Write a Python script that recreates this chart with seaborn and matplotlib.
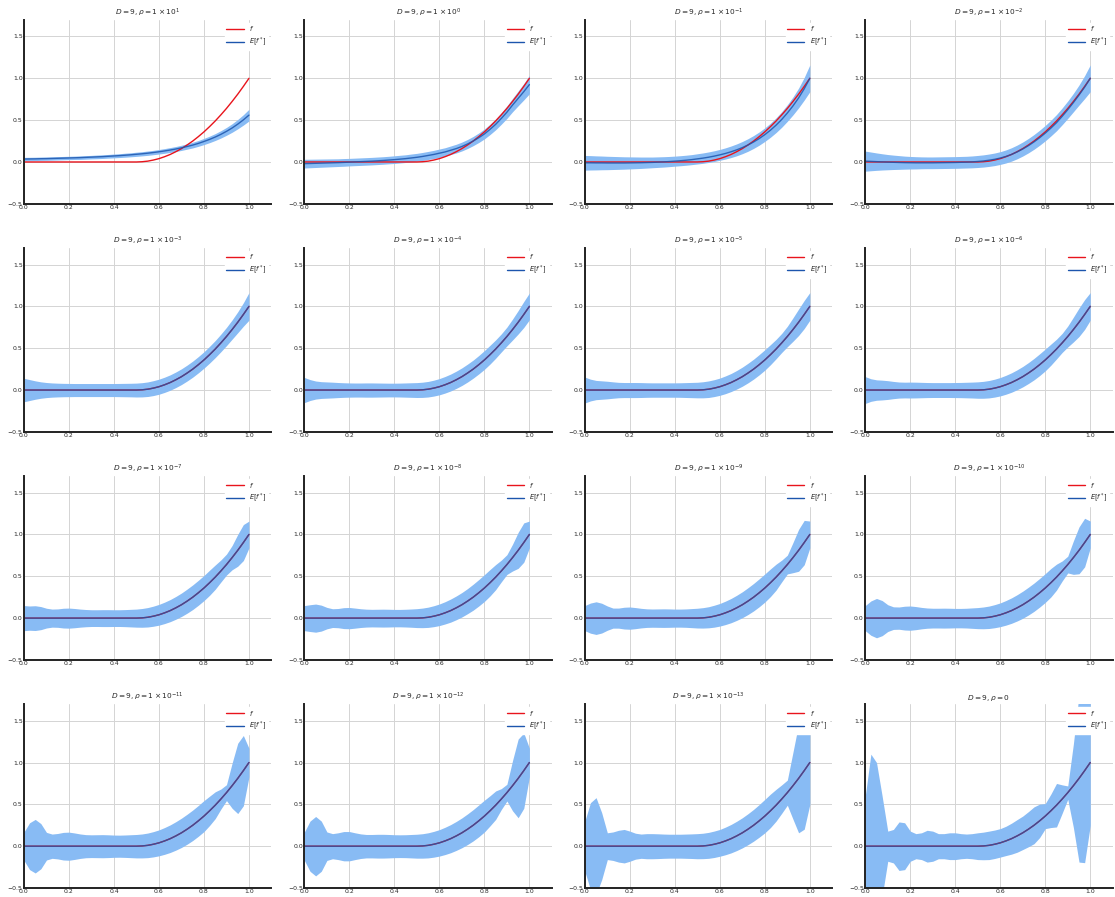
import numpy as np
import matplotlib
matplotlib.use("Agg")
import matplotlib.pyplot as plt
import seaborn as sns
from matplotlib.lines import Line2D

# grid of inputs (41 points from 0 to 1)
x = np.linspace(0.0, 1.0, 41)

# true function f
f_true = [0.0]*21 + [0.003, 0.01, 0.023, 0.04, 0.063, 0.09, 0.123, 0.16, 0.203, 0.25,
                     0.303, 0.36, 0.423, 0.49, 0.563, 0.64, 0.723, 0.81, 0.903, 1.0]

titles = [r"$D = 9, \rho = 1 \times 10^{1}$", r"$D = 9, \rho = 1 \times 10^{0}$",
          r"$D = 9, \rho = 1 \times 10^{-1}$", r"$D = 9, \rho = 1 \times 10^{-2}$",
          r"$D = 9, \rho = 1 \times 10^{-3}$", r"$D = 9, \rho = 1 \times 10^{-4}$",
          r"$D = 9, \rho = 1 \times 10^{-5}$", r"$D = 9, \rho = 1 \times 10^{-6}$",
          r"$D = 9, \rho = 1 \times 10^{-7}$", r"$D = 9, \rho = 1 \times 10^{-8}$",
          r"$D = 9, \rho = 1 \times 10^{-9}$", r"$D = 9, \rho = 1 \times 10^{-10}$",
          r"$D = 9, \rho = 1 \times 10^{-11}$", r"$D = 9, \rho = 1 \times 10^{-12}$",
          r"$D = 9, \rho = 1 \times 10^{-13}$", r"$D = 9, \rho = 0$"]

# posterior means that differ from f (first row)
mean_1 = [0.035, 0.036, 0.037, 0.039, 0.040, 0.042, 0.044, 0.046, 0.048, 0.050,
          0.052, 0.055, 0.058, 0.061, 0.064, 0.068, 0.072, 0.076, 0.081, 0.086,
          0.092, 0.098, 0.105, 0.113, 0.122, 0.132, 0.143, 0.155, 0.169, 0.185,
          0.202, 0.222, 0.245, 0.270, 0.298, 0.330, 0.366, 0.406, 0.452, 0.503, 0.560]
mean_2 = [-0.020, -0.018, -0.016, -0.014, -0.012, -0.010, -0.008, -0.005, -0.002, 0.001,
          0.004, 0.007, 0.010, 0.014, 0.018, 0.023, 0.028, 0.034, 0.040, 0.048,
          0.056, 0.066, 0.078, 0.090, 0.105, 0.120, 0.140, 0.160, 0.185, 0.215,
          0.250, 0.290, 0.335, 0.390, 0.450, 0.520, 0.595, 0.680, 0.760, 0.840, 0.925]
mean_3 = [-0.010, -0.010, -0.011, -0.011, -0.012, -0.012, -0.012, -0.012, -0.011, -0.010,
          -0.009, -0.007, -0.005, -0.002, 0.001, 0.005, 0.010, 0.015, 0.021, 0.028,
          0.037, 0.046, 0.057, 0.070, 0.085, 0.102, 0.122, 0.145, 0.172, 0.203,
          0.239, 0.280, 0.327, 0.380, 0.440, 0.508, 0.585, 0.670, 0.765, 0.875, 1.000]
mean_4 = [0.010, 0.007, 0.004, 0.001, -0.002, -0.004, -0.006, -0.008, -0.009, -0.010,
          -0.010, -0.010, -0.010, -0.009, -0.008, -0.007, -0.006, -0.004, -0.002, 0.001,
          0.006, 0.012, 0.021, 0.032, 0.047, 0.066, 0.090, 0.120, 0.155, 0.195,
          0.240, 0.290, 0.345, 0.405, 0.470, 0.545, 0.625, 0.710, 0.800, 0.895, 1.000]

# half width of the shaded band for each panel
hw_1 = [0.020, 0.020, 0.020, 0.020, 0.020, 0.020, 0.020, 0.020, 0.020, 0.020,
        0.021, 0.021, 0.021, 0.022, 0.022, 0.022, 0.023, 0.023, 0.024, 0.024,
        0.025, 0.025, 0.026, 0.026, 0.027, 0.028, 0.029, 0.030, 0.031, 0.032,
        0.034, 0.035, 0.037, 0.039, 0.041, 0.044, 0.047, 0.051, 0.056, 0.062, 0.070]
hw_2 = [0.052, 0.051, 0.050, 0.049, 0.048, 0.047, 0.046, 0.046, 0.045, 0.045,
        0.045, 0.045, 0.045, 0.045, 0.045, 0.045, 0.046, 0.046, 0.046, 0.047,
        0.047, 0.048, 0.048, 0.049, 0.050, 0.050, 0.051, 0.052, 0.053, 0.054,
        0.055, 0.057, 0.059, 0.062, 0.065, 0.069, 0.074, 0.080, 0.088, 0.098, 0.110]
hw_3 = [0.088, 0.086, 0.084, 0.082, 0.080, 0.078, 0.076, 0.074, 0.072, 0.070,
        0.068, 0.066, 0.064, 0.063, 0.062, 0.061, 0.060, 0.060, 0.060, 0.060,
        0.061, 0.062, 0.063, 0.064, 0.065, 0.067, 0.069, 0.071, 0.073, 0.075,
        0.077, 0.079, 0.081, 0.084, 0.088, 0.093, 0.099, 0.107, 0.118, 0.135, 0.160]
hw_4 = [0.120, 0.112, 0.104, 0.097, 0.091, 0.086, 0.082, 0.078, 0.075, 0.073,
        0.071, 0.070, 0.070, 0.070, 0.070, 0.070, 0.070, 0.070, 0.070, 0.071,
        0.072, 0.073, 0.074, 0.075, 0.076, 0.078, 0.080, 0.082, 0.084, 0.086,
        0.088, 0.090, 0.092, 0.094, 0.097, 0.100, 0.104, 0.110, 0.120, 0.137, 0.160]
hw_5 = [0.140, 0.125, 0.110, 0.098, 0.090, 0.085, 0.082, 0.080, 0.079, 0.078,
        0.078, 0.078, 0.078, 0.078, 0.078, 0.078, 0.078, 0.079, 0.080, 0.081,
        0.083, 0.085, 0.087, 0.089, 0.090, 0.091, 0.092, 0.093, 0.094, 0.095,
        0.096, 0.097, 0.098, 0.100, 0.102, 0.105, 0.109, 0.115, 0.125, 0.140, 0.165]
hw_6 = [0.150, 0.125, 0.108, 0.100, 0.097, 0.094, 0.090, 0.087, 0.085, 0.084,
        0.084, 0.085, 0.085, 0.084, 0.083, 0.082, 0.082, 0.083, 0.085, 0.087,
        0.089, 0.091, 0.093, 0.095, 0.097, 0.099, 0.101, 0.103, 0.105, 0.107,
        0.108, 0.110, 0.112, 0.112, 0.110, 0.108, 0.112, 0.125, 0.140, 0.155, 0.160]
hw_7 = [0.155, 0.130, 0.115, 0.110, 0.105, 0.098, 0.092, 0.090, 0.090, 0.090,
        0.089, 0.087, 0.086, 0.086, 0.086, 0.086, 0.086, 0.087, 0.089, 0.091,
        0.093, 0.096, 0.099, 0.101, 0.103, 0.106, 0.108, 0.111, 0.114, 0.117,
        0.119, 0.121, 0.122, 0.120, 0.116, 0.114, 0.122, 0.140, 0.158, 0.168, 0.165]
hw_8 = [0.160, 0.135, 0.122, 0.118, 0.112, 0.103, 0.096, 0.094, 0.095, 0.094,
        0.092, 0.090, 0.089, 0.089, 0.089, 0.089, 0.090, 0.091, 0.093, 0.095,
        0.098, 0.101, 0.104, 0.107, 0.110, 0.113, 0.116, 0.119, 0.122, 0.125,
        0.128, 0.130, 0.130, 0.126, 0.118, 0.114, 0.125, 0.148, 0.170, 0.178, 0.165]
hw_9 = [0.150, 0.145, 0.148, 0.138, 0.118, 0.108, 0.110, 0.118, 0.120, 0.115,
        0.108, 0.103, 0.100, 0.100, 0.101, 0.101, 0.100, 0.100, 0.102, 0.105,
        0.108, 0.112, 0.116, 0.120, 0.124, 0.128, 0.132, 0.136, 0.140, 0.144,
        0.147, 0.149, 0.150, 0.150, 0.145, 0.132, 0.125, 0.145, 0.190, 0.215, 0.160]
hw_10 = [0.150, 0.160, 0.168, 0.155, 0.128, 0.112, 0.115, 0.125, 0.127, 0.120,
         0.112, 0.107, 0.105, 0.106, 0.107, 0.106, 0.104, 0.104, 0.106, 0.109,
         0.113, 0.117, 0.121, 0.125, 0.129, 0.133, 0.138, 0.142, 0.146, 0.150,
         0.155, 0.158, 0.160, 0.158, 0.150, 0.130, 0.118, 0.160, 0.215, 0.235, 0.160]
hw_11 = [0.150, 0.180, 0.195, 0.178, 0.145, 0.120, 0.120, 0.130, 0.133, 0.126,
         0.117, 0.111, 0.109, 0.110, 0.111, 0.110, 0.108, 0.108, 0.110, 0.114,
         0.118, 0.122, 0.126, 0.131, 0.135, 0.140, 0.145, 0.150, 0.155, 0.160,
         0.164, 0.167, 0.168, 0.165, 0.155, 0.130, 0.112, 0.180, 0.250, 0.265, 0.160]
hw_12 = [0.150, 0.205, 0.235, 0.210, 0.160, 0.135, 0.133, 0.142, 0.145, 0.138,
         0.128, 0.121, 0.118, 0.118, 0.119, 0.118, 0.116, 0.116, 0.118, 0.122,
         0.126, 0.130, 0.134, 0.138, 0.142, 0.147, 0.152, 0.157, 0.162, 0.166,
         0.169, 0.171, 0.172, 0.170, 0.155, 0.120, 0.100, 0.200, 0.280, 0.290, 0.160]
hw_13 = [0.170, 0.280, 0.320, 0.270, 0.165, 0.145, 0.152, 0.165, 0.168, 0.158,
         0.146, 0.138, 0.136, 0.137, 0.138, 0.136, 0.133, 0.132, 0.134, 0.137,
         0.140, 0.143, 0.147, 0.151, 0.155, 0.160, 0.165, 0.170, 0.175, 0.179,
         0.182, 0.184, 0.185, 0.175, 0.160, 0.120, 0.095, 0.270, 0.420, 0.420, 0.170]
hw_14 = [0.170, 0.300, 0.355, 0.300, 0.170, 0.150, 0.160, 0.175, 0.175, 0.160,
         0.147, 0.140, 0.140, 0.142, 0.142, 0.140, 0.137, 0.136, 0.137, 0.140,
         0.143, 0.146, 0.150, 0.154, 0.158, 0.163, 0.168, 0.173, 0.178, 0.183,
         0.187, 0.190, 0.190, 0.180, 0.170, 0.125, 0.100, 0.300, 0.470, 0.450, 0.170]
hw_15 = [0.300, 0.520, 0.580, 0.400, 0.160, 0.170, 0.190, 0.200, 0.180, 0.155,
         0.145, 0.150, 0.150, 0.148, 0.145, 0.143, 0.143, 0.143, 0.145, 0.147,
         0.150, 0.152, 0.155, 0.158, 0.160, 0.165, 0.170, 0.175, 0.180, 0.185,
         0.190, 0.195, 0.200, 0.200, 0.190, 0.170, 0.150, 0.400, 0.650, 0.700, 0.500]
hw_16 = [0.600, 1.100, 1.000, 0.600, 0.180, 0.200, 0.290, 0.280, 0.180, 0.150,
         0.160, 0.190, 0.180, 0.150, 0.150, 0.160, 0.160, 0.150, 0.145, 0.150,
         0.160, 0.165, 0.170, 0.170, 0.170, 0.175, 0.185, 0.195, 0.200, 0.210,
         0.220, 0.200, 0.150, 0.200, 0.260, 0.170, 0.080, 0.500, 1.000, 1.100, 0.750]

means = [mean_1, mean_2, mean_3, mean_4] + [f_true] * 12
half_widths = [hw_1, hw_2, hw_3, hw_4, hw_5, hw_6, hw_7, hw_8,
               hw_9, hw_10, hw_11, hw_12, hw_13, hw_14, hw_15, hw_16]

red = "#e8141c"
blue = "#1c55ad"
band = "#88bbf4"

sns.set_style("whitegrid", {"axes.edgecolor": "#222222", "grid.color": "#d4d4d4"})
plt.rcParams["font.family"] = ["DejaVu Sans"]

fig, axes = plt.subplots(4, 4, figsize=(11.15, 8.97), dpi=100)
fig.subplots_adjust(left=0.0215, right=0.998, top=0.978, bottom=0.01,
                    wspace=0.133, hspace=0.239)

for i, ax in enumerate(axes.flat):
    m = np.array(means[i])
    hw = np.array(half_widths[i])
    ax.fill_between(x, m - hw, m + hw, color=band, linewidth=0)
    sns.lineplot(x=x, y=f_true, ax=ax, color=red, linewidth=1.0)
    sns.lineplot(x=x, y=m, ax=ax, color=blue, linewidth=1.0, alpha=0.85)
    ax.set_xlim(0, 1.1)
    ax.set_ylim(-0.5, 1.7)
    ax.set_xticks([0.0, 0.2, 0.4, 0.6, 0.8, 1.0])
    ax.set_yticks([-0.5, 0.0, 0.5, 1.0, 1.5])
    ax.tick_params(labelsize=4.4, pad=1, length=0)
    ax.set_title(titles[i], fontsize=5.3, pad=3)
    ax.grid(linewidth=0.7)
    for s in ["left", "bottom"]:
        ax.spines[s].set_linewidth(1.4)
    sns.despine(ax=ax)
    handles = [Line2D([], [], color=red, linewidth=1.0),
               Line2D([], [], color=blue, linewidth=1.0)]
    ax.legend(handles, [r"$f$", r"$E[f^*]$"], loc="upper right", fontsize=4.8,
              frameon=True, facecolor="white", edgecolor="white", framealpha=1,
              handlelength=2.6, borderpad=0.2, labelspacing=0.3)

fig.savefig("out.png", dpi=100)
